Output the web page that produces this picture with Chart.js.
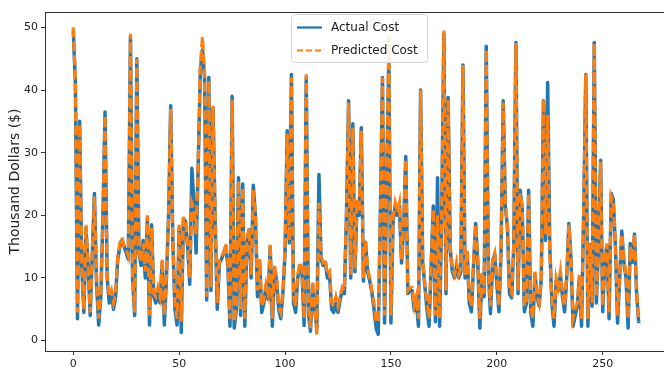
<!DOCTYPE html>
<html>
<head>
<meta charset="utf-8">
<script src="https://cdn.jsdelivr.net/npm/chart.js@4.4.1/dist/chart.umd.min.js"></script>
<style>
html,body{margin:0;padding:0;background:#fff;overflow:hidden;width:664px;height:374px;}
#wrap{position:absolute;left:0;top:0;width:680px;height:374px;}
</style>
</head>
<body>
<div id="wrap"><canvas id="c" width="680" height="374"></canvas></div>
<script>
// ---- data ----
const actualCost = [
49.5,41,3.5,35,12,4.5,18,12,4,14,
23.5,9,2.5,7,20,36.5,10,6,8,5,
7,13,15,16,15,14,13,48.5,10,4,
45,14,12,16,10,19.5,2.5,18.5,7,6,
8,6,12.5,2.5,10,20,37.5,16,5,2.5,
18,1.3,19.5,19,15,9,27.5,22,14,28,
43,46.5,42,6.5,42,8,37,19,5,12.5,
13,14,15,12,2.3,39,2,5,26,4,
25,2.3,15.5,17.7,10,24.8,20,7,12.6,4.5,
6,8.8,6.6,15,2.3,11.5,9.5,5,3.5,7.7,
14,33.5,15.6,42.5,6,4.5,10,12,11,2.4,
42,4.5,1.5,9,5,2,26.5,13,12,12.5,
10,10.5,5,4.5,6,4.5,6.5,8,7.5,20,
38.3,10,34.6,11,22,20,34,9.5,15.7,11,
9.5,7.7,5,2,1,20,42,2.8,26,45,
2.8,19,21.5,20,21.5,12.4,18,29.4,7.5,8,
8,4.8,6,2.3,40,12.5,8.8,5,2.3,12,
21.5,3,26,2.3,21,49,7.5,38.8,14.5,11,
10,12,10,11,44,10,14,6,4.6,12,
18.7,12.4,2,10.5,7,47,11,4.3,12.4,13.8,
9,4.6,14.3,38.3,21.5,18,7.5,6.8,15,47.6,
7.5,24,21,4.6,6,24,4.6,2.3,10.6,7,
5.5,10,38.3,16,41.2,15,6,2.3,9.5,8,
10.6,7,4.6,10,18.7,13.2,2.3,4,5.5,10,
2.3,20,42.5,2.3,15.3,5.5,47.6,6,15,28.8,
4.6,13.2,15,3.5,23.5,22.5,15,2.8,10,17.5,
12.5,10,2,15.5,12.5,17,7.5,2.8
];
const predictedCost = [
50,41.5,4.5,34.5,12.5,5,18.5,12,4.5,14,
23,9.5,3.5,7.5,19.5,36,10.5,7,8,6,
7.5,13.5,15.5,16.5,15,14.5,13.5,49,10.5,4.5,
45,14.5,12.5,15.5,11,20,4,18,7.5,7,
8.5,7,13,4,10.5,19.5,37,16.5,6,3.5,
18.5,3,19.5,19.5,15.5,10,22,21,17,28.5,
44,48.5,42.5,7,41.5,8.5,37.5,19.5,6,13,
13.5,14,15.5,12.5,3.5,38.5,3,5.5,25.5,5,
24.5,3.5,16,18,10.5,24,20.5,8,13,5.5,
6.5,9,7.5,15.5,3.5,12,10,5.5,4.5,8,
14.5,33,16,42,7,5.5,10.5,12.5,11.5,3.5,
42.5,5.5,2,9.5,5.5,0.8,22,13.5,12.5,13,
10.5,11,6,5.5,7,5.5,7,8.5,8,20.5,
38,10.5,34,11.5,22.5,20.5,33.5,10,16,11.5,
10,8,6,3,3,20.5,42,4,25.5,48.5,
4,19.5,22,20.5,22,13,18.5,29,8,8.5,
8.5,5.5,7,3.5,40,13,9,6,3.5,12.5,
21,4,20,3.5,21.5,49.5,8,38.5,15,11.5,
10.5,12.5,10.5,11.5,44,10.5,14.5,7,5.5,12.5,
18.5,13,3.5,11,7.5,46.5,11.5,5.5,13,14,
9.5,5.5,14.5,38,22,18.5,8,7.5,15.5,47.5,
8,23.5,21.5,5.5,6.5,23.5,5.5,3.5,11,7.5,
6,10.5,38.5,17,36,14,6.5,3.5,10,8.5,
11,7.5,5.5,10.5,18.5,13.5,3.5,5,6,10.5,
3.5,20.5,42.5,3.5,15.5,6,47.5,7,15.5,28.5,
5.5,13.5,15.5,4.5,23,22,15.5,4,10.5,17,
13,10.5,3.5,15,13,17,8,3
];
const indices = actualCost.map((_, i) => i);
const xTicks = [0, 50, 100, 150, 200, 250];
const yTicks = [0, 10, 20, 30, 40, 50];
const seriesNames = ['Actual Cost', 'Predicted Cost'];
const yTitle = 'Thousand Dollars ($)';

// matplotlib-like 5% margins
const allVals = actualCost.concat(predictedCost);
const yMinD = Math.min(...allVals), yMaxD = Math.max(...allVals);
const yPad = (yMaxD - yMinD) * 0.05;
const xPad = (indices[indices.length - 1] - indices[0]) * 0.05;

const BLUE = '#1f77b4', ORANGE = '#ff7f0e';
const FONT = "'DejaVu Sans', sans-serif";

const framePlugin = {
  id: 'frame',
  afterDraw(chart) {
    const {ctx, chartArea: a} = chart;
    ctx.save();
    ctx.strokeStyle = '#333';
    ctx.lineWidth = 1;
    ctx.strokeRect(a.left + 0.5, a.top + 0.5, a.right - a.left, a.bottom - a.top);
    // legend
    const lx = 291.5, ly = 14.5, lw = 136, lh = 48;
    ctx.beginPath();
    ctx.roundRect(lx, ly, lw, lh, 3);
    ctx.fillStyle = 'rgba(255,255,255,0.85)';
    ctx.fill();
    ctx.strokeStyle = '#d5d5d5';
    ctx.stroke();
    ctx.lineWidth = 2.2;
    ctx.strokeStyle = BLUE;
    ctx.setLineDash([]);
    ctx.beginPath(); ctx.moveTo(297, 27.5); ctx.lineTo(322, 27.5); ctx.stroke();
    ctx.strokeStyle = ORANGE;
    ctx.setLineDash([6, 3]);
    ctx.beginPath(); ctx.moveTo(297, 50.5); ctx.lineTo(322, 50.5); ctx.stroke();
    ctx.setLineDash([]);
    ctx.fillStyle = '#222';
    ctx.font = '12px ' + FONT;
    ctx.textBaseline = 'middle';
    ctx.textAlign = 'left';
    ctx.fillText(seriesNames[0], 331, 28);
    ctx.fillText(seriesNames[1], 331, 51);
    ctx.restore();
  }
};

new Chart(document.getElementById('c'), {
  type: 'line',
  data: {
    datasets: [
      {
        label: seriesNames[0],
        data: indices.map((x, i) => ({x, y: actualCost[i]})),
        borderColor: BLUE, borderWidth: 3.5, pointRadius: 0, tension: 0,
        borderJoinStyle: 'round', order: 2
      },
      {
        label: seriesNames[1],
        data: indices.map((x, i) => ({x, y: predictedCost[i]})),
        borderColor: ORANGE, borderWidth: 3.2, pointRadius: 0, tension: 0,
        borderDash: [10, 4], order: 1
      }
    ]
  },
  options: {
    responsive: false,
    animation: false,
    events: [],
    layout: {padding: {left: 0, top: 12, right: 13, bottom: 0}},
    plugins: {legend: {display: false}, tooltip: {enabled: false}},
    scales: {
      x: {
        type: 'linear',
        min: indices[0] - xPad, max: indices[indices.length - 1] + xPad,
        afterBuildTicks: s => { s.ticks = xTicks.map(v => ({value: v})); },
        afterFit: s => { s.height = 23; },
        grid: {drawOnChartArea: false, drawTicks: true, tickLength: 4, color: '#333'},
        border: {display: true, color: '#333'},
        ticks: {font: {family: FONT, size: 11}, color: '#222', padding: 3, maxRotation: 0}
      },
      y: {
        type: 'linear',
        min: yMinD - yPad, max: yMaxD + yPad,
        afterBuildTicks: s => { s.ticks = yTicks.map(v => ({value: v})); },
        afterFit: s => { s.width = 45; },
        grid: {drawOnChartArea: false, drawTicks: true, tickLength: 4, color: '#333'},
        border: {display: true, color: '#333'},
        ticks: {font: {family: FONT, size: 11}, color: '#222', padding: 3},
        title: {display: true, text: yTitle, font: {family: FONT, size: 14}, color: '#222', padding: {top: 7, bottom: 0}}
      }
    }
  },
  plugins: [framePlugin]
});
</script>
</body>
</html>
